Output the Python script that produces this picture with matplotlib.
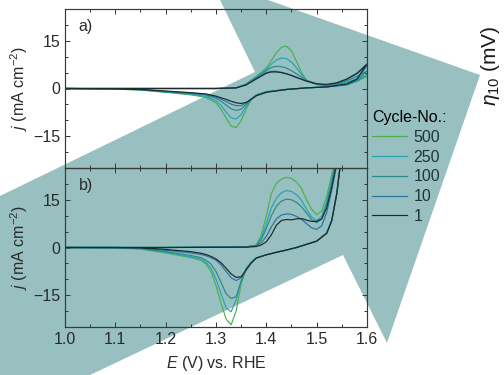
import numpy as np
import matplotlib
matplotlib.use("Agg")
import matplotlib.pyplot as plt
from matplotlib.patches import Polygon
from matplotlib.ticker import MultipleLocator

plt.rcParams['font.family'] = ['Liberation Sans', 'DejaVu Sans']
plt.rcParams['mathtext.fontset'] = 'custom'
plt.rcParams['mathtext.rm'] = 'Liberation Sans'
plt.rcParams['mathtext.it'] = 'Liberation Sans:italic'

# cycle numbers and colours (legend order)
cycles = ['500', '250', '100', '10', '1']
colors = ['#4cb04e', '#25a4b3', '#2a8a8c', '#2c73a0', '#1c2b2b']

# ---- panel a) ----
E_up_a = [1.00, 1.10, 1.20, 1.30, 1.34, 1.36, 1.38, 1.40, 1.41, 1.42, 1.43,
          1.44, 1.45, 1.46, 1.47, 1.48, 1.50, 1.52, 1.54, 1.56, 1.58, 1.60]
j_up_a = {
    '500': [0, 0, 0, 0, 0.2, 1.5, 3.8, 6.5, 8.8, 11.2, 13.0, 13.3, 11.8, 8.5, 5.0, 2.5, 1.3, 0.8, 1.0, 1.8, 2.7, 3.8],
    '250': [0, 0, 0, 0, 0.2, 1.4, 3.6, 6.0, 7.7, 9.0, 9.6, 9.4, 8.3, 6.5, 4.4, 2.6, 1.3, 0.9, 1.2, 2.0, 3.0, 4.3],
    '100': [0, 0, 0, 0, 0.2, 1.3, 3.4, 5.6, 6.6, 7.0, 6.9, 6.4, 5.6, 4.6, 3.6, 2.6, 1.4, 1.0, 1.4, 2.4, 3.8, 5.5],
    '10':  [0, 0, 0, 0, 0.2, 1.2, 3.2, 5.0, 5.4, 5.4, 5.1, 4.7, 4.1, 3.5, 2.9, 2.3, 1.4, 1.1, 1.6, 2.8, 4.6, 7.2],
    '1':   [0, 0, 0, 0, 0.2, 1.1, 3.0, 4.8, 5.2, 5.2, 5.0, 4.6, 4.1, 3.5, 2.9, 2.3, 1.5, 1.3, 1.8, 3.0, 4.8, 7.7],
}
E_dn_a = [1.60, 1.58, 1.56, 1.52, 1.48, 1.44, 1.40, 1.38, 1.37, 1.36, 1.35, 1.34,
          1.33, 1.32, 1.31, 1.30, 1.28, 1.25, 1.20, 1.15, 1.10, 1.00]
j_dn_a = {
    '500': [3.8, 2.2, 1.2, 0.5, 0.2, -0.3, -1.0, -2.0, -3.5, -6.5, -10.0, -12.3, -11.8, -9.2, -6.6, -4.5, -2.8, -2.0, -1.2, -0.5, -0.2, 0],
    '250': [4.3, 2.3, 1.2, 0.5, 0.2, -0.3, -1.0, -2.0, -3.3, -5.6, -8.2, -9.6, -9.2, -7.4, -5.4, -3.9, -2.5, -1.8, -1.1, -0.4, -0.1, 0],
    '100': [5.5, 2.5, 1.2, 0.5, 0.2, -0.3, -1.1, -2.1, -3.3, -5.0, -6.5, -6.9, -6.4, -5.2, -4.0, -3.1, -2.1, -1.6, -1.0, -0.4, -0.1, 0],
    '10':  [7.2, 2.8, 1.3, 0.5, 0.2, -0.3, -1.1, -2.2, -3.3, -4.5, -5.4, -5.4, -4.9, -4.1, -3.3, -2.7, -1.9, -1.4, -0.9, -0.3, -0.1, 0],
    '1':   [7.7, 3.0, 1.4, 0.5, 0.2, -0.3, -1.2, -2.3, -3.4, -4.4, -4.7, -4.5, -4.0, -3.4, -2.9, -2.4, -1.7, -1.3, -0.8, -0.3, -0.1, 0],
}

# ---- panel b) ----
E_up_b = [1.00, 1.20, 1.36, 1.38, 1.39, 1.40, 1.41, 1.42, 1.43, 1.44, 1.45,
          1.46, 1.47, 1.48, 1.49, 1.50, 1.51, 1.52, 1.53, 1.54, 1.55]
j_up_b = {
    '500': [0, 0, 0.2, 0.8, 4.0, 10.0, 17.0, 20.2, 21.5, 22.1, 21.7, 20.6, 18.5, 15.0, 12.0, 10.3, 11.5, 16.0, 23.0, 30, 38],
    '250': [0, 0, 0.2, 0.7, 3.0, 7.5, 12.5, 15.5, 17.2, 17.9, 17.6, 16.6, 14.8, 12.0, 9.6, 8.5, 9.8, 14.5, 21.5, 29, 37],
    '100': [0, 0, 0.2, 0.6, 2.5, 6.0, 10.0, 13.0, 14.6, 15.2, 15.0, 14.2, 12.8, 10.8, 8.8, 7.8, 9.0, 13.5, 20.5, 28, 36],
    '10':  [0, 0, 0.2, 0.5, 1.5, 3.5, 6.5, 9.0, 10.2, 10.6, 10.4, 9.8, 8.8, 7.5, 6.2, 5.7, 6.8, 11.0, 18.0, 26, 35],
    '1':   [0, 0, 0.1, 0.3, 0.8, 1.8, 4.0, 7.0, 8.5, 8.8, 8.7, 9.0, 9.1, 8.6, 8.2, 8.2, 9.0, 12.5, 19.0, 27, 36],
}
E_dn_b = [1.56, 1.55, 1.54, 1.53, 1.52, 1.50, 1.48, 1.46, 1.44, 1.42, 1.40, 1.38,
          1.37, 1.36, 1.35, 1.34, 1.33, 1.32, 1.31, 1.30, 1.29, 1.28, 1.27, 1.25,
          1.22, 1.20, 1.15, 1.10, 1.00]
j_dn_b_common = [40, 30, 17, 8.5, 4.5, 2.0, 1.0, 0.0, -0.8, -1.5, -2.3, -3.3]
j_dn_b = {
    '500': [-4.6, -6.5, -11.5, -20.0, -24.3, -22.5, -17.5, -12.0, -7.5, -5.2, -4.0, -3.2, -2.3, -1.7, -0.5, -0.1, 0],
    '250': [-4.6, -6.5, -10.5, -16.5, -20.2, -19.0, -14.5, -10.0, -6.5, -4.7, -3.7, -2.9, -2.1, -1.5, -0.4, -0.1, 0],
    '100': [-4.7, -6.8, -10.5, -15.5, -16.0, -14.5, -11.0, -7.5, -5.2, -4.0, -3.2, -2.5, -1.8, -1.3, -0.3, -0.1, 0],
    '10':  [-4.8, -7.0, -9.5, -10.4, -9.5, -7.5, -5.5, -4.0, -3.2, -2.6, -2.2, -1.7, -1.2, -0.9, -0.2, 0, 0],
    '1':   [-4.9, -7.0, -9.2, -9.4, -8.3, -6.5, -4.8, -3.6, -2.8, -2.2, -1.8, -1.3, -0.9, -0.6, -0.1, 0, 0],
}

# background arrow outline (pixel corners of the 504x375 image)
arrow_px = [(220, 0), (255, 72), (0, 196), (0, 375), (90, 375), (343, 255),
            (387, 343), (480, 75), (268, 0)]

W, H = 504, 375
fig = plt.figure(figsize=(W / 72, H / 72), dpi=72)
fig.patches.append(Polygon([(x / W, 1 - y / H) for x, y in arrow_px], closed=True,
                           transform=fig.transFigure, facecolor='#98c0c0',
                           edgecolor='none', zorder=-5))

axc = '#3a3a3a'
tc = '#2a2a2a'
fs = 16
ax1 = fig.add_axes([65 / W, 1 - 168 / H, 302 / W, 159 / H])
ax2 = fig.add_axes([65 / W, 1 - 327 / H, 302 / W, 159 / H])

for ax in (ax1, ax2):
    ax.patch.set_alpha(0)
    ax.set_xlim(1.0, 1.6)
    ax.set_ylim(-25, 25)
    ax.xaxis.set_major_locator(MultipleLocator(0.1))
    ax.xaxis.set_minor_locator(MultipleLocator(0.05))
    ax.yaxis.set_major_locator(MultipleLocator(15))
    ax.yaxis.set_minor_locator(MultipleLocator(5))
    ax.tick_params(which='both', direction='in', top=True, right=True,
                   color=axc, labelsize=fs, labelcolor=tc, width=1)
    ax.tick_params(which='major', length=5, pad=5)
    ax.tick_params(which='minor', length=3)
    for s in ax.spines.values():
        s.set_color(axc)
        s.set_linewidth(1.2)
    ax.set_ylabel('$j$ (mA cm$^{-2}$)', fontsize=fs, color=tc, labelpad=3)

ax1.tick_params(labelbottom=False)

for c, col in zip(cycles, colors):
    ax1.plot(E_up_a + E_dn_a, j_up_a[c] + j_dn_a[c], color=col, lw=1.2)
    ax2.plot(E_up_b + E_dn_b, j_up_b[c] + j_dn_b_common + j_dn_b[c], color=col, lw=1.2,
             label=c)

ax1.text(0.045, 0.86, 'a)', transform=ax1.transAxes, fontsize=fs, color=tc)
ax2.text(0.045, 0.86, 'b)', transform=ax2.transAxes, fontsize=fs, color=tc)
ax2.set_xlabel('$E$ (V) vs. RHE', fontsize=fs, color=tc, labelpad=7)

fig.legend(loc='upper left', bbox_to_anchor=(372 / W, 1 - 110 / H), frameon=False,
           title='Cycle-No.:', title_fontsize=fs, fontsize=fs, alignment='left',
           handlelength=2.2, handletextpad=0.4, labelspacing=0.3, borderpad=0,
           borderaxespad=0, labelcolor='#1e3535')

fig.text(491 / W, 1 - 66 / H, r'$\eta_{10}$ (mV)', rotation=90, fontsize=21,
         ha='center', va='center', color='#1a1a1a')

fig.savefig('out.png', dpi=72)
